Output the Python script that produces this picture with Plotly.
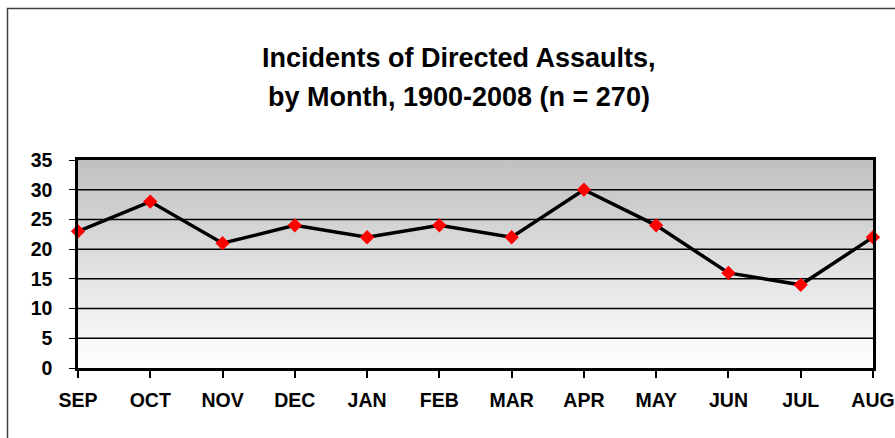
import plotly.graph_objects as go

months = ["SEP", "OCT", "NOV", "DEC", "JAN", "FEB", "MAR", "APR", "MAY", "JUN", "JUL", "AUG"]
incidents = [23, 28, 21, 24, 22, 24, 22, 30, 24, 16, 14, 22]
y_ticks = [0, 5, 10, 15, 20, 25, 30, 35]
title_lines = ["Incidents of Directed Assaults,", "by Month, 1900-2008 (n = 270)"]

xi = list(range(len(months)))
x0, x1 = 0, len(months) - 1
y0, y1 = y_ticks[0], y_ticks[-1]

W, H = 895, 438
ML, MR, MT, MB = 78, 22, 160, 70
PW, PH = W - ML - MR, H - MT - MB


def px(x):  # screen x -> paper x
    return (x - ML) / PW


def py(y):  # screen y -> paper y
    return (H - MB - y) / PH


fig = go.Figure()

# gradient plot background
fig.add_trace(go.Scatter(
    x=[x0, x1, x1, x0, x0], y=[y0, y0, y1, y1, y0],
    mode="lines", line=dict(width=0), fill="toself",
    fillgradient=dict(type="vertical", start=y0, stop=y1,
                      colorscale=[[0, "#ffffff"], [1, "#c0c0c0"]]),
    hoverinfo="skip", showlegend=False,
))

# gridlines (drawn above the gradient, below the data)
gx, gy = [], []
for t in y_ticks[1:-1]:
    gx += [x0, x1, None]
    gy += [t, t, None]
fig.add_trace(go.Scatter(x=gx, y=gy, mode="lines",
                         line=dict(color="black", width=1.5),
                         hoverinfo="skip", showlegend=False))

fig.add_trace(go.Scatter(
    x=xi, y=incidents, mode="lines+markers",
    line=dict(color="black", width=3.5),
    marker=dict(symbol="diamond", size=11, color="#ff0000",
                line=dict(width=0)),
    showlegend=False, cliponaxis=False,
))

font = "Liberation Sans, Arial, sans-serif"
fig.update_layout(
    width=W, height=H,
    margin=dict(l=ML, r=MR, t=MT, b=MB, pad=0),
    paper_bgcolor="white", plot_bgcolor="white",
    font=dict(family=font, color="black"),
    xaxis=dict(range=[x0, x1], tickvals=xi, ticktext=months,
               showgrid=False, zeroline=False, automargin=False,
               showline=True, linecolor="black", linewidth=2.5, mirror=True,
               ticks="outside", ticklen=7, tickwidth=2, tickcolor="black",
               ticklabelstandoff=6,
               tickfont=dict(size=19.5, family=font, weight="bold")),
    yaxis=dict(range=[y0, y1], tickvals=y_ticks,
               showgrid=False, zeroline=False, automargin=False,
               showline=True, linecolor="black", linewidth=2.5, mirror=True,
               ticks="outside", ticklen=6, tickwidth=1, tickcolor="black",
               ticklabelstandoff=13,
               tickfont=dict(size=19.5, family=font, weight="bold")),
    shapes=[dict(type="rect", xref="paper", yref="paper",
                 x0=px(7.5), x1=px(905),
                 y0=py(450), y1=py(8.5),
                 line=dict(color="#404040", width=1.5), layer="below")],
    annotations=[
        dict(text=title_lines[0], xref="paper", yref="paper",
             x=px(459), y=py(58), showarrow=False,
             xanchor="center", yanchor="middle",
             font=dict(size=27, family=font, weight="bold")),
        dict(text=title_lines[1], xref="paper", yref="paper",
             x=px(459), y=py(97), showarrow=False,
             xanchor="center", yanchor="middle",
             font=dict(size=27, family=font, weight="bold")),
    ],
)

# remove the browser's default 8px body margin so the figure fills the window
fig.write_html("out.html",
               config={"displayModeBar": False},
               post_script="document.body.style.margin='0';"
                           "document.body.style.overflow='hidden';")
